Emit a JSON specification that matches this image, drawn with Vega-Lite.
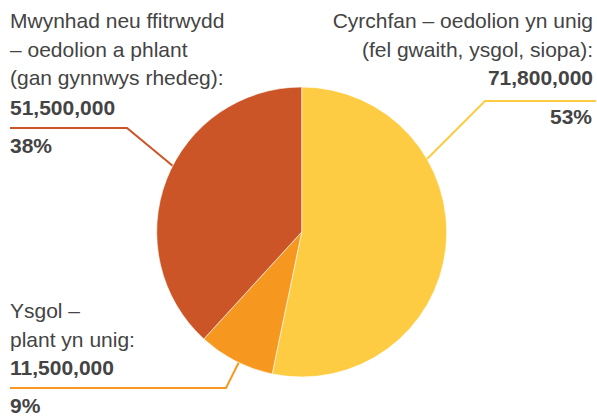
{
  "$schema": "https://vega.github.io/schema/vega-lite/v6.json",
  "width": 597,
  "height": 417,
  "padding": 0,
  "autosize": {"type": "none"},
  "background": "white",
  "config": {"view": {"stroke": null}},
  "datasets": {
    "slices": [
      {"cat": "Cyrchfan", "value": 71800000, "ord": 1},
      {"cat": "Ysgol", "value": 11500000, "ord": 2},
      {"cat": "Mwynhad", "value": 51500000, "ord": 3}
    ],
    "leaders": [
      {"cat": "Mwynhad", "ord": 1, "x": 10, "y": 128},
      {"cat": "Mwynhad", "ord": 2, "x": 127, "y": 128},
      {"cat": "Mwynhad", "ord": 3, "x": 185, "y": 176},
      {"cat": "Cyrchfan", "ord": 1, "x": 596, "y": 101},
      {"cat": "Cyrchfan", "ord": 2, "x": 485, "y": 101},
      {"cat": "Cyrchfan", "ord": 3, "x": 420, "y": 166},
      {"cat": "Ysgol", "ord": 1, "x": 10, "y": 388},
      {"cat": "Ysgol", "ord": 2, "x": 226, "y": 388},
      {"cat": "Ysgol", "ord": 3, "x": 243, "y": 354}
    ],
    "names": [
      {"cat": "Mwynhad", "side": "left", "text": "Mwynhad neu ffitrwydd\n– oedolion a phlant\n(gan gynnwys rhedeg):", "x": 10, "y": 28.3},
      {"cat": "Cyrchfan", "side": "right", "text": "Cyrchfan – oedolion yn unig\n(fel gwaith, ysgol, siopa):", "x": 593, "y": 28.3},
      {"cat": "Ysgol", "side": "left", "text": "Ysgol –\nplant yn unig:", "x": 10, "y": 318.3}
    ],
    "figures": [
      {"cat": "Mwynhad", "side": "left", "text": "51,500,000", "x": 10, "y": 115},
      {"cat": "Mwynhad", "side": "left", "text": "38%", "x": 10, "y": 153.3},
      {"cat": "Cyrchfan", "side": "right", "text": "71,800,000", "x": 593, "y": 85},
      {"cat": "Cyrchfan", "side": "right", "text": "53%", "x": 592, "y": 123.5},
      {"cat": "Ysgol", "side": "left", "text": "11,500,000", "x": 10, "y": 375},
      {"cat": "Ysgol", "side": "left", "text": "9%", "x": 10, "y": 413}
    ]
  },
  "resolve": {"scale": {"x": "shared", "y": "shared"}},
  "layer": [
    {
      "data": {"name": "leaders"},
      "mark": {"type": "line", "strokeWidth": 2, "strokeJoin": "miter"},
      "encoding": {
        "x": {"field": "x", "type": "quantitative", "scale": {"domain": [0, 597], "nice": false, "zero": false}, "axis": null},
        "y": {"field": "y", "type": "quantitative", "scale": {"domain": [0, 417], "nice": false, "zero": false, "reverse": true}, "axis": null},
        "color": {"field": "cat", "type": "nominal", "scale": {"domain": ["Cyrchfan", "Ysgol", "Mwynhad"], "range": ["#FECC43", "#F6981F", "#CB5527"]}, "legend": null},
        "order": {"field": "ord", "type": "quantitative"}
      }
    },
    {
      "data": {"name": "slices"},
      "mark": {"type": "arc", "outerRadius": 145, "stroke": "white", "strokeWidth": 0.6},
      "encoding": {
        "x": {"datum": 301.7, "type": "quantitative", "axis": null},
        "y": {"datum": 232, "type": "quantitative", "axis": null},
        "theta": {"field": "value", "type": "quantitative", "stack": true},
        "order": {"field": "ord", "type": "quantitative"},
        "color": {"field": "cat", "type": "nominal", "scale": {"domain": ["Cyrchfan", "Ysgol", "Mwynhad"], "range": ["#FECC43", "#F6981F", "#CB5527"]}, "legend": null}
      }
    },
    {
      "data": {"name": "names"},
      "transform": [{"filter": "datum.side === 'left'"}],
      "mark": {"type": "text", "align": "left", "baseline": "alphabetic", "font": "Liberation Sans", "fontSize": 21, "lineHeight": 28.4, "lineBreak": "\n", "color": "#444444"},
      "encoding": {
        "x": {"field": "x", "type": "quantitative", "axis": null},
        "y": {"field": "y", "type": "quantitative", "axis": null},
        "text": {"field": "text", "type": "nominal"}
      }
    },
    {
      "data": {"name": "names"},
      "transform": [{"filter": "datum.side === 'right'"}],
      "mark": {"type": "text", "align": "right", "baseline": "alphabetic", "font": "Liberation Sans", "fontSize": 21, "lineHeight": 28.4, "lineBreak": "\n", "color": "#444444"},
      "encoding": {
        "x": {"field": "x", "type": "quantitative", "axis": null},
        "y": {"field": "y", "type": "quantitative", "axis": null},
        "text": {"field": "text", "type": "nominal"}
      }
    },
    {
      "data": {"name": "figures"},
      "transform": [{"filter": "datum.side === 'left'"}],
      "mark": {"type": "text", "align": "left", "baseline": "alphabetic", "font": "Liberation Sans", "fontSize": 21, "fontWeight": "bold", "color": "#444444"},
      "encoding": {
        "x": {"field": "x", "type": "quantitative", "axis": null},
        "y": {"field": "y", "type": "quantitative", "axis": null},
        "text": {"field": "text", "type": "nominal"}
      }
    },
    {
      "data": {"name": "figures"},
      "transform": [{"filter": "datum.side === 'right'"}],
      "mark": {"type": "text", "align": "right", "baseline": "alphabetic", "font": "Liberation Sans", "fontSize": 21, "fontWeight": "bold", "color": "#444444"},
      "encoding": {
        "x": {"field": "x", "type": "quantitative", "axis": null},
        "y": {"field": "y", "type": "quantitative", "axis": null},
        "text": {"field": "text", "type": "nominal"}
      }
    }
  ]
}
